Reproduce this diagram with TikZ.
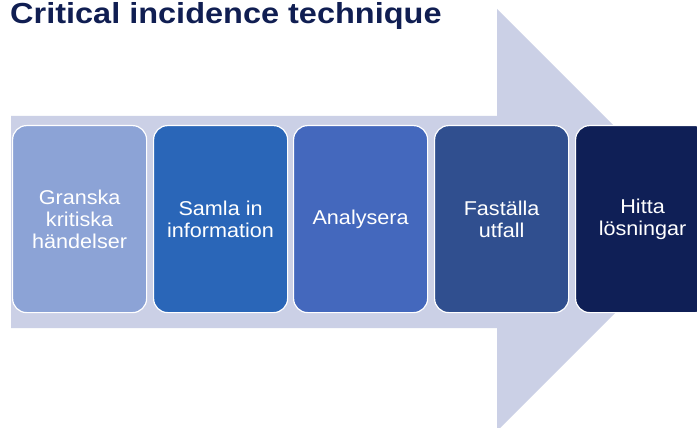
\documentclass[tikz,border=0pt]{standalone}
\usepackage{fontspec}
\setmainfont[FakeStretch=1.08]{Liberation Sans}
\newfontfamily\titlefont[FakeStretch=1.12]{Liberation Sans}
\definecolor{arrowbg}{HTML}{CBD0E6}
\definecolor{cA}{HTML}{8CA3D6}
\definecolor{cB}{HTML}{2A66B8}
\definecolor{cC}{HTML}{4468BD}
\definecolor{cD}{HTML}{304F8F}
\definecolor{cE}{HTML}{0F1F56}
\definecolor{titlecol}{HTML}{101E52}
\tikzset{
  stepbox/.style={draw=white, line width=1.2pt, rounded corners=14pt, minimum width=134pt, minimum height=187pt, inner sep=0pt,
    text=white, align=center, font=\fontsize{20pt}{22pt}\selectfont, anchor=north west}
}
\begin{document}
\begin{tikzpicture}[x=1pt,y=-1pt]
\useasboundingbox (0,0) rectangle (697,428);
\fill[white] (0,0) rectangle (697,428);
% big arrow
\fill[arrowbg] (11,116) -- (497,116) -- (497,9) -- (708,220) -- (497,431) -- (497,328) -- (11,328) -- cycle;
% title
\node[anchor=base west, inner sep=0pt, text=titlecol, font=\titlefont\fontsize{29pt}{32pt}\selectfont\bfseries] (title) at (10,23.5) {Critical incidence technique};
% boxes
\node[stepbox, fill=cA] (b1) at (12,125) {Granska\\kritiska\\händelser};
\node[stepbox, fill=cB] (b2) at (153,125) {Samla in\\information};
\node[stepbox, fill=cC] (b3) at (293,125) {Analysera};
\node[stepbox, fill=cD] (b4) at (434,125) {Faställa\\utfall};
\node[stepbox, fill=cE] (b5) at (575,125) {Hitta\\lösningar};
\end{tikzpicture}
\end{document}
